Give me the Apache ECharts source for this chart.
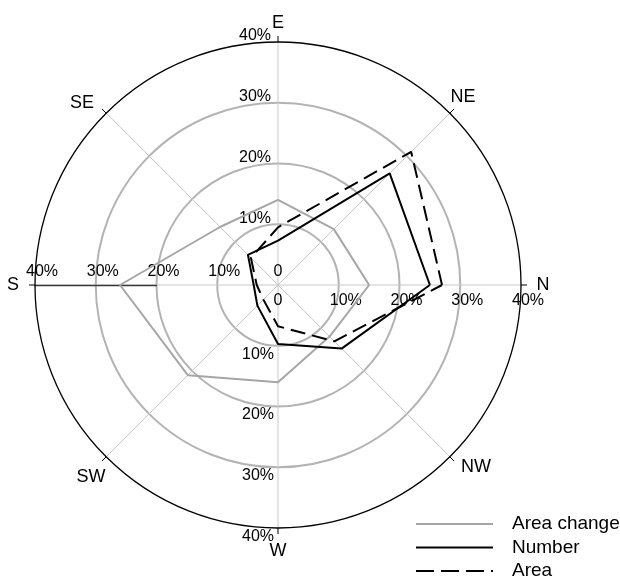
<!DOCTYPE html>
<html><head><meta charset="utf-8">
<script src="https://cdn.jsdelivr.net/npm/echarts@6/dist/echarts.min.js"></script>
<style>html,body{margin:0;padding:0;background:#fff}#c{width:620px;height:576px}</style>
</head><body><div id="c"></div>
<script>
// ---- data ----
const directions = ['N', 'NE', 'E', 'SE', 'S', 'SW', 'W', 'NW'];
const areaChange = [15, 13, 14, 13.5, 26, 21, 16, 12];
const number = [25, 26, 7.3, 7, 4, 4.8, 9.7, 14.8];
const area = [27, 31, 9.5, 6.3, 3.5, 3.4, 6.8, 13.1];
const radiusTicks = [0, 10, 20, 30, 40];
const tickLabels = ['0', '10%', '20%', '30%', '40%'];
const seriesNames = ['Area change', 'Number', 'Area'];

// ---- layout / style ----
const FONT = '"Liberation Sans", Arial, sans-serif';
const CENTER = [278, 285];
const R = 243;
const STEP = 360 / directions.length;

function closedRing(values) {
  const pts = values.map((v, i) => [v, i * STEP]);
  pts.push([values[0], 360]);
  return pts;
}
function tickFmt(showZero) {
  return function (v) {
    const i = radiusTicks.indexOf(v);
    if (i < 0) return '';
    if (v === 0) return showZero ? '{z|' + tickLabels[i] + '}' : '';
    return '{p|' + tickLabels[i] + '}';
  };
}
const tFont = { fontFamily: FONT, fontSize: 16, color: '#000' };
function rich(pPad, zPad) {
  return { p: Object.assign({ padding: pPad }, tFont), z: Object.assign({ padding: zPad }, tFont) };
}
const dFont = { fontFamily: FONT, fontSize: 18, color: '#000' };
const dirPad = {
  N: [0, 0, 0, 14.5], NE: [0, 0, 6, 0], E: [0, 0, 9, 0], SE: [0, 11.5, 0, 0],
  S: [0, 15, 0, 0], SW: [10, 0, 0, 0], W: [13, 0, 0, 0], NW: [0, 0, 0, 10.5]
};
const dirRich = {};
directions.forEach(d => { dirRich[d] = Object.assign({ padding: dirPad[d] }, dFont); });

function hiddenAngle(idx, start) {
  return { polarIndex: idx, type: 'value', min: 0, max: 360, startAngle: start, clockwise: false,
    axisLine: { show: false }, axisTick: { show: false }, axisLabel: { show: false }, splitLine: { show: false } };
}
function labelRadius(idx, labelOpt) {
  return { polarIndex: idx, type: 'value', min: 0, max: 40, interval: 10,
    axisLine: { show: false }, axisTick: { show: false }, splitLine: { show: false },
    axisLabel: Object.assign({ fontFamily: FONT, fontSize: 16, color: '#000' }, labelOpt) };
}

const option = {
  animation: false,
  backgroundColor: '#fff',
  polar: [
    { center: CENTER, radius: R },
    { center: CENTER, radius: R },
    { center: CENTER, radius: R },
    { center: CENTER, radius: R },
    { center: CENTER, radius: R },
    { center: CENTER, radius: [R / 2, R] }
  ],
  angleAxis: [
    { polarIndex: 0, type: 'value', min: 0, max: 360, interval: STEP, startAngle: 0, clockwise: false,
      axisLine: { lineStyle: { color: '#000', width: 1.3 } },
      axisTick: { show: true, inside: false, length: 6, lineStyle: { color: '#000', width: 1 } },
      axisLabel: { margin: 1, formatter: v => { const i = Math.round(v / STEP); return i < directions.length ? '{' + directions[i] + '|' + directions[i] + '}' : ''; }, rich: dirRich },
      splitLine: { show: true, lineStyle: { color: '#c8c8c8', width: 1 } } },
    hiddenAngle(1, 0), hiddenAngle(2, 90), hiddenAngle(3, 180), hiddenAngle(4, 270), hiddenAngle(5, 180)
  ],
  radiusAxis: [
    { polarIndex: 0, type: 'value', min: 0, max: 40, interval: 10,
      axisLine: { show: false }, axisTick: { show: false }, axisLabel: { show: false },
      splitLine: { show: true, lineStyle: { color: ['#b3b3b3', '#b3b3b3', '#b3b3b3', '#b3b3b3', 'rgba(0,0,0,0)'], width: 2 } } },
    // N axis labels (below)
    labelRadius(1, { margin: 0.01, align: 'center', verticalAlign: 'top', formatter: tickFmt(true), rich: rich([8, 0, 0, 14], [8, 0, 0, 0]) }),
    // E axis labels (left, raised)
    labelRadius(2, { margin: 7, align: 'right', verticalAlign: 'middle', formatter: tickFmt(false), rich: rich([0, 0, 12, 0], [0, 0, 0, 0]) }),
    // S axis labels (above)
    labelRadius(3, { margin: 0.01, align: 'center', verticalAlign: 'bottom', formatter: tickFmt(true), rich: rich([0, 0, 5, 14], [0, 0, 5, 0]) }),
    // W axis labels (left, lowered)
    labelRadius(4, { margin: 0.01, align: 'right', verticalAlign: 'middle', formatter: tickFmt(false), rich: rich([17, 4, 0, 0], [0, 0, 0, 0]) }),
    { polarIndex: 5, type: 'value', min: 20, max: 40,
      axisLine: { show: true, lineStyle: { color: '#3a3a3a', width: 1.3 } },
      axisTick: { show: false }, axisLabel: { show: false }, splitLine: { show: false } }
  ],
  legend: {
    data: [
      { name: seriesNames[0] },
      { name: seriesNames[1] },
      { name: seriesNames[2], lineStyle: { type: [18, 7] } }
    ],
    orient: 'vertical', left: 415, top: 514.5, height: 100, padding: 0,
    itemWidth: 77, itemHeight: 19, itemGap: 4.5,
    itemStyle: { opacity: 0 },
    textStyle: { fontFamily: FONT, fontSize: 19, color: '#000', lineHeight: 19, padding: [0, 0, 0, 14] }
  },
  series: [
    { type: 'line', name: seriesNames[0], coordinateSystem: 'polar', polarIndex: 0, data: closedRing(areaChange),
      symbol: 'none', silent: true, lineStyle: { color: '#a6a6a6', width: 2 }, itemStyle: { color: '#a6a6a6' } },
    { type: 'line', name: seriesNames[1], coordinateSystem: 'polar', polarIndex: 0, data: closedRing(number),
      symbol: 'none', silent: true, lineStyle: { color: '#000', width: 2 }, itemStyle: { color: '#000' } },
    { type: 'line', name: seriesNames[2], coordinateSystem: 'polar', polarIndex: 0, data: closedRing(area),
      symbol: 'none', silent: true, lineStyle: { color: '#000', width: 2, type: [15, 7] }, itemStyle: { color: '#000' } }
  ]
};
const chart = echarts.init(document.getElementById('c'), null, { renderer: 'canvas' });
chart.setOption(option);
</script>
</body></html>
